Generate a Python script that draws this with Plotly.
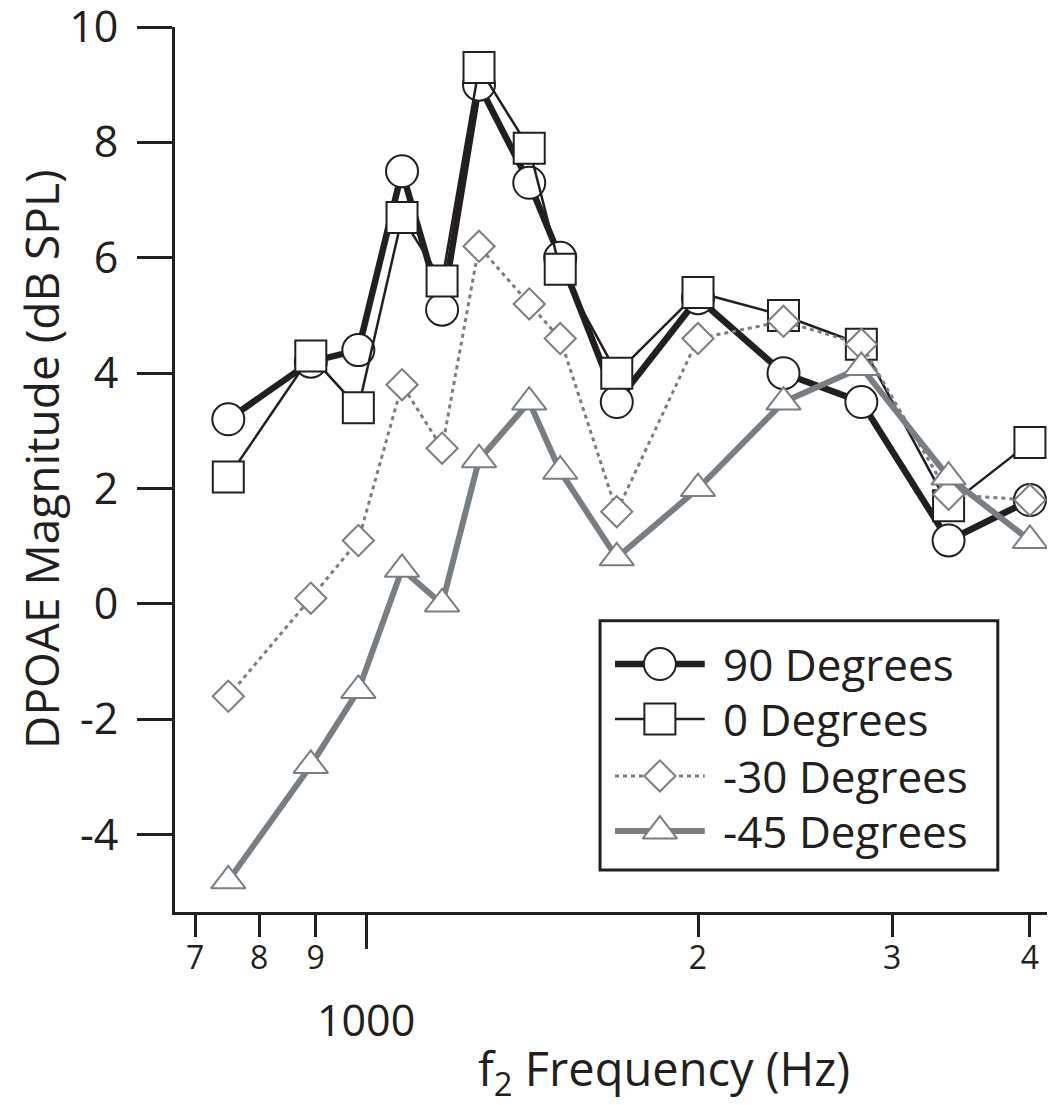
import math
import plotly.graph_objects as go

# f2 frequencies (Hz)
freqs = [750, 891, 984, 1078, 1172, 1266, 1406, 1500, 1688, 2000, 2391, 2813, 3375, 4000]

# DPOAE magnitude (dB SPL) per head angle
deg_90 = [3.2, 4.2, 4.4, 7.5, 5.1, 9.0, 7.3, 6.0, 3.5, 5.3, 4.0, 3.5, 1.1, 1.8]
deg_0 = [2.2, 4.3, 3.4, 6.7, 5.6, 9.3, 7.9, 5.8, 4.0, 5.4, 5.0, 4.5, 1.7, 2.8]
deg_m30 = [-1.6, 0.1, 1.1, 3.8, 2.7, 6.2, 5.2, 4.6, 1.6, 4.6, 4.9, 4.5, 1.9, 1.8]
deg_m45 = [-4.8, -2.8, -1.5, 0.6, 0.0, 2.5, 3.5, 2.3, 0.8, 2.0, 3.5, 4.1, 2.2, 1.1]

series_names = ["90 Degrees", "0 Degrees", "-30 Degrees", "-45 Degrees"]

y_ticks = [-4, -2, 0, 2, 4, 6, 8, 10]
x_ticks = [700, 800, 900, 2000, 3000, 4000]
x_ticktext = ["7", "8", "9", "2", "3", "4"]

BLACK = "#231f20"
GRAY = "#787e82"
FONT = "Open Sans"

styles = [
    dict(line=dict(color=BLACK, width=6.5),
         marker=dict(symbol="circle", size=32, color="white", line=dict(color=BLACK, width=2))),
    dict(line=dict(color=BLACK, width=2.5),
         marker=dict(symbol="square", size=31, color="white", line=dict(color=BLACK, width=2))),
    dict(line=dict(color=GRAY, width=3, dash="4px,4px"),
         marker=dict(symbol="diamond", size=24, color="white", line=dict(color=GRAY, width=2))),
    dict(line=dict(color=GRAY, width=6),
         marker=dict(symbol="triangle-up", size=30, color="white", line=dict(color=GRAY, width=2))),
]

fig = go.Figure()

for name, ys, st in zip(series_names, [deg_90, deg_0, deg_m30, deg_m45], styles):
    fig.add_trace(go.Scatter(x=freqs, y=ys, name=name, mode="lines+markers",
                             line=st["line"], marker=st["marker"], showlegend=False))

# invisible trace so the "1000" axis gets drawn
fig.add_trace(go.Scatter(x=[1000], y=[None], xaxis="x3", yaxis="y", showlegend=False,
                         hoverinfo="skip", mode="markers"))

# hand-made legend on an invisible 0..1 overlay axis
leg_rows = [0.2802, 0.2181, 0.1537, 0.0915]
for name, yy, st in zip(series_names, leg_rows, styles):
    fig.add_trace(go.Scatter(x=[0.50, 0.602], y=[yy, yy], mode="lines", line=st["line"],
                             xaxis="x2", yaxis="y2", showlegend=False, hoverinfo="skip"))
    fig.add_trace(go.Scatter(x=[0.551], y=[yy], mode="markers", marker=st["marker"],
                             xaxis="x2", yaxis="y2", showlegend=False, hoverinfo="skip"))
    fig.add_annotation(x=0.620, y=yy, xref="x2", yref="y2", text=name, showarrow=False,
                       xanchor="left", yanchor="middle", font=dict(family=FONT, size=44, color=BLACK))

fig.add_shape(type="rect", xref="paper", yref="paper", x0=0.483, x1=0.935, y0=0.0475, y1=0.329,
              line=dict(color=BLACK, width=3), fillcolor="rgba(0,0,0,0)", layer="above")

xr = [math.log10(671), math.log10(4215)]

# page body has an 8px margin, so the figure is 8px smaller and shifted
fig.update_layout(
    width=1047, height=1097,
    margin=dict(l=167, r=0, t=19, b=193, autoexpand=False),
    paper_bgcolor="white", plot_bgcolor="rgba(0,0,0,0)",
    font=dict(family=FONT, color=BLACK),
    xaxis=dict(type="log", range=xr, showgrid=False, zeroline=False, automargin=False,
               showline=True, linecolor=BLACK, linewidth=3,
               ticks="outside", ticklen=22, tickwidth=3, tickcolor=BLACK,
               tickvals=x_ticks, ticktext=x_ticktext, ticklabelstandoff=-6,
               tickfont=dict(size=32, family=FONT)),
    xaxis3=dict(type="log", range=xr, overlaying="x", anchor="y", side="bottom", automargin=False,
                showgrid=False, zeroline=False, showline=False,
                ticks="outside", ticklen=36, tickwidth=3, tickcolor=BLACK,
                tickvals=[1000], ticktext=["1000"], ticklabelstandoff=35,
                tickfont=dict(size=43, family=FONT)),
    yaxis=dict(range=[-5.34, 10.001], showgrid=False, zeroline=False, automargin=False,
               showline=True, linecolor=BLACK, linewidth=3, ticklabeloverflow="allow",
               ticks="outside", ticklen=35, tickwidth=3, tickcolor=BLACK,
               tickvals=y_ticks, ticktext=[str(v) for v in y_ticks], ticklabelstandoff=10,
               tickfont=dict(size=43, family=FONT)),
    xaxis2=dict(range=[0, 1], domain=[0, 1], anchor="y2", visible=False, fixedrange=True),
    yaxis2=dict(range=[0, 1], domain=[0, 1], anchor="x2", visible=False, fixedrange=True),
)

fig.add_annotation(text="DPOAE Magnitude (dB SPL)", xref="paper", yref="paper",
                   x=(41 - 175) / 880, y=(912 - 459) / 885, textangle=-90, showarrow=False,
                   xanchor="center", yanchor="middle", font=dict(family=FONT, size=46, color=BLACK))
fig.add_annotation(text="f<sub>2</sub> Frequency (Hz)", xref="paper", yref="paper",
                   x=(664 - 175) / 880, y=(912 - 1071) / 885, showarrow=False,
                   xanchor="center", yanchor="middle", font=dict(family=FONT, size=47, color=BLACK))

fig.write_html("out.html")
